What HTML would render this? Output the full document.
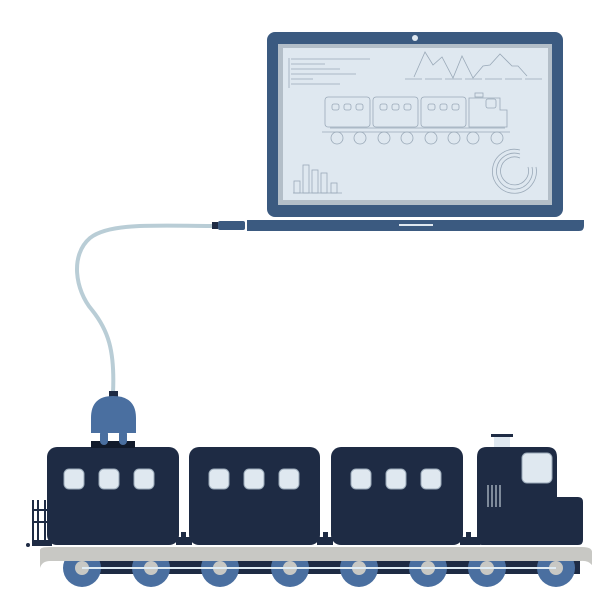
<!DOCTYPE html>
<html><head><style>body{margin:0;background:#fff}svg{display:block}</style></head><body>
<svg width="612" height="612" viewBox="0 0 612 612" xmlns="http://www.w3.org/2000/svg">
<path d="M113,393 C115,350 108,330 92,310 C75,290 70,255 90,238 C110,222 160,226 215,226" fill="none" stroke="#b9cdd6" stroke-width="4"/>
<rect x="212" y="222" width="6" height="7" fill="#1e2b44"/>
<rect x="218" y="221" width="27" height="9" rx="2" fill="#3b5a80"/>
<rect x="267" y="32" width="296" height="185" rx="8" fill="#3b5a80"/>
<circle cx="415" cy="38" r="3" fill="#dfe8f0"/>
<rect x="278" y="44" width="274" height="161" fill="#b3bec8"/>
<rect x="283" y="48" width="265" height="152" fill="#dfe8f0"/>
<path d="M247,220 H584 V226 Q584,231 579,231 H247 Z" fill="#3b5a80"/>
<rect x="399" y="224" width="34" height="2" fill="#dfe8f0"/>
<g stroke="#9aa9b8" stroke-width="0.8" fill="none">
<path d="M289,58 V88"/><path d="M291,59 H370 M291,64 H325 M291,69 H340 M291,74 H356 M291,79 H313 M291,84 H340"/>
<path d="M414,77 L425,52 L433,65 L442,57 L453,78 L462,56 L473,78 L483,66 L490,65 L500,54 L512,66 L518,66 L527,76"/>
<path d="M405,79 H543" stroke-dasharray="17,3"/>
<rect x="325" y="97" width="45" height="30" rx="3"/><rect x="373" y="97" width="45" height="30" rx="3"/><rect x="421" y="97" width="45" height="30" rx="3"/>
<path d="M469,127 V98 H500 V110 H507 V127 Z"/><rect x="486" y="99" width="10" height="9" rx="2"/><rect x="475" y="93" width="8" height="4"/>
<path d="M322,132 H510 M330,128 H505"/>
<path d="M293,193 H342"/>
<path d="M520,150 A22,22 0 1 0 536,167 M520,154 A18,18 0 1 0 532,167 M520,158 A14,14 0 1 0 528,167"/>
</g>
<g fill="none" stroke="#9aa9b8" stroke-width="0.8">
<circle cx="337" cy="138" r="6"/><circle cx="360" cy="138" r="6"/><circle cx="384" cy="138" r="6"/><circle cx="407" cy="138" r="6"/><circle cx="431" cy="138" r="6"/><circle cx="454" cy="138" r="6"/><circle cx="473" cy="138" r="6"/><circle cx="497" cy="138" r="6"/>
<rect x="332" y="104" width="7" height="6" rx="2"/><rect x="344" y="104" width="7" height="6" rx="2"/><rect x="356" y="104" width="7" height="6" rx="2"/>
<rect x="380" y="104" width="7" height="6" rx="2"/><rect x="392" y="104" width="7" height="6" rx="2"/><rect x="404" y="104" width="7" height="6" rx="2"/>
<rect x="428" y="104" width="7" height="6" rx="2"/><rect x="440" y="104" width="7" height="6" rx="2"/><rect x="452" y="104" width="7" height="6" rx="2"/>
<rect x="294" y="181" width="6" height="12"/><rect x="303" y="165" width="6" height="28"/><rect x="312" y="170" width="6" height="23"/><rect x="321" y="173" width="6" height="20"/><rect x="331" y="183" width="6" height="10"/>
</g>
<rect x="80" y="558" width="500" height="16" fill="#1e2b44"/>
<g fill="#4a6fa0">
<circle cx="82" cy="568" r="19"/><circle cx="151" cy="568" r="19"/><circle cx="220" cy="568" r="19"/><circle cx="290" cy="568" r="19"/><circle cx="359" cy="568" r="19"/><circle cx="428" cy="568" r="19"/><circle cx="487" cy="568" r="19"/><circle cx="556" cy="568" r="19"/>
</g>
<rect x="30" y="587" width="582" height="25" fill="#fff"/>
<path d="M40,550 Q40,547 50,547 H582 Q592,547 592,552 V565 Q588,560 580,561 H50 Q42,561 40,568 Z" fill="#c8c8c4"/>
<g fill="#c8c8c4">
<circle cx="82" cy="568" r="7"/><circle cx="151" cy="568" r="7"/><circle cx="220" cy="568" r="7"/><circle cx="290" cy="568" r="7"/><circle cx="359" cy="568" r="7"/><circle cx="428" cy="568" r="7"/><circle cx="487" cy="568" r="7"/><circle cx="556" cy="568" r="7"/>
</g>
<rect x="82" y="567" width="474" height="2" fill="#e0ecf4"/>
<g fill="#1e2b44">
<rect x="32" y="540" width="20" height="6"/><circle cx="28" cy="545" r="2"/>
<path d="M33,500 V540 M38,500 V540 M45,500 V540 M33,510 H47 M33,522 H47" stroke="#1e2b44" stroke-width="2"/>
<rect x="47" y="447" width="132" height="98" rx="10"/>
<rect x="189" y="447" width="131" height="98" rx="10"/>
<rect x="331" y="447" width="132" height="98" rx="10"/>
<path d="M487,447 H547 Q557,447 557,457 V497 H578 Q583,497 583,502 V540 Q583,545 578,545 H482 Q477,545 477,540 V457 Q477,447 487,447 Z"/>
<rect x="176" y="537" width="16" height="8"/><rect x="317" y="537" width="16" height="8"/><rect x="460" y="537" width="20" height="8"/>
<rect x="181" y="532" width="5" height="6"/><rect x="323" y="532" width="5" height="6"/><rect x="466" y="532" width="5" height="6"/>
<rect x="491" y="434" width="22" height="3"/>
<rect x="91" y="441" width="44" height="7" fill="#111a2b"/>
</g>
<rect x="494" y="437" width="16" height="10" fill="#dfe8f0"/>
<g fill="#dfe8f0" stroke="#9aa9b8" stroke-width="1">
<rect x="64" y="469" width="20" height="20" rx="5"/><rect x="99" y="469" width="20" height="20" rx="5"/><rect x="134" y="469" width="20" height="20" rx="5"/>
<rect x="209" y="469" width="20" height="20" rx="5"/><rect x="244" y="469" width="20" height="20" rx="5"/><rect x="279" y="469" width="20" height="20" rx="5"/>
<rect x="351" y="469" width="20" height="20" rx="5"/><rect x="386" y="469" width="20" height="20" rx="5"/><rect x="421" y="469" width="20" height="20" rx="5"/>
<rect x="522" y="453" width="30" height="30" rx="5"/>
</g>
<path d="M488,485 V507 M492,485 V507 M496,485 V507 M500,485 V507" stroke="#dfe8f0" stroke-width="1"/>
<rect x="109" y="391" width="9" height="6" fill="#1e2b44"/>
<path d="M91,433 V418 Q91,396 113,396 Q136,396 136,418 V433 Z" fill="#4a6fa0"/>
<rect x="100" y="430" width="8" height="15" rx="4" fill="#4a6fa0"/>
<rect x="119" y="430" width="8" height="15" rx="4" fill="#4a6fa0"/>
</svg>
</body></html>
